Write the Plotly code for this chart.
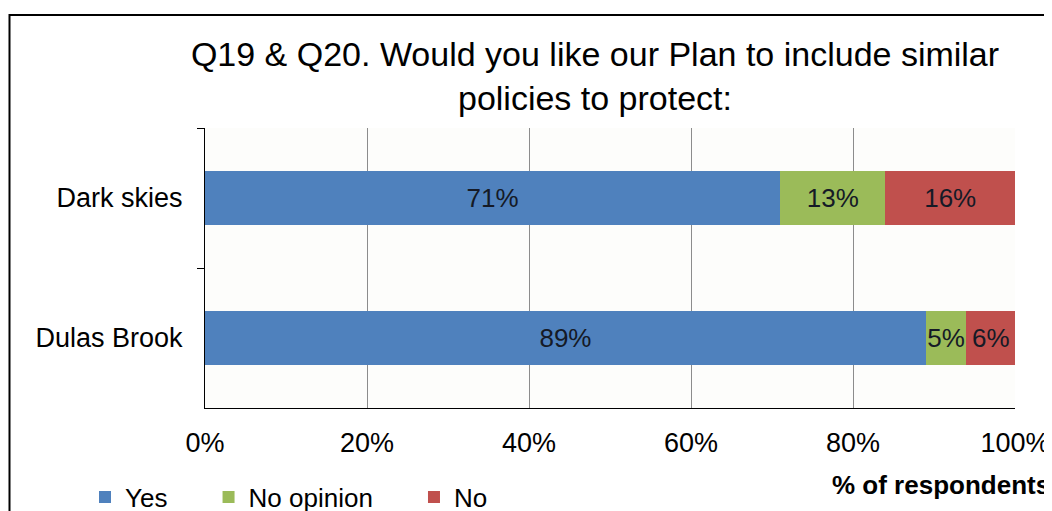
import plotly.graph_objects as go

categories = ["Dark skies", "Dulas Brook"]
yes_vals = [71, 89]
noop_vals = [13, 5]
no_vals = [16, 6]
series_names = ["Yes", "No opinion", "No"]
legend_pad = [5, 5, 0]
tick_vals = [0, 20, 40, 60, 80, 100]
tick_text = ["0%", "20%", "40%", "60%", "80%", "100%"]

colors = ["#4F81BD", "#9BBB59", "#C0504D"]
FONT = "Liberation Sans, Arial, sans-serif"

OFF = 8  # page body margin offset
W, H = 1052, 511
L, T = 205 - OFF, 128 - OFF
R, B = W - (1015 - OFF), H - (408 - OFF)
PW, PH = W - L - R, H - T - B


def px_x(x):
    return (x - OFF - L) / PW


def px_y(y):
    return (H - B - (y - OFF)) / PH


fig = go.Figure()
for name, vals, col, pad in zip(series_names, [yes_vals, noop_vals, no_vals], colors, legend_pad):
    fig.add_trace(go.Bar(
        y=categories, x=vals, name=name + "\u00a0" * pad, orientation="h",
        marker=dict(color=col, line=dict(width=0)),
        text=[f"{v}%" for v in vals], textposition="inside", textangle=0,
        insidetextanchor="middle", constraintext="none",
        textfont=dict(family=FONT, size=26, color="#151a26"),
        hoverinfo="skip",
    ))

fig.update_layout(
    barmode="stack", bargap=0.61,
    width=W, height=H,
    margin=dict(l=L, r=R, t=T, b=B, autoexpand=False),
    paper_bgcolor="white", plot_bgcolor="#fdfdfb",
    font=dict(family=FONT, size=27, color="black"),
    title=dict(text="Q19 & Q20. Would you like our Plan to include similar<br>policies to protect:",
               x=(595 - OFF) / W, xanchor="center", y=1 - (66 - OFF) / H, yanchor="middle",
               font=dict(family=FONT, size=34, color="black")),
    showlegend=True,
    legend=dict(orientation="h", x=px_x(85), xanchor="left",
                y=px_y(497), yanchor="middle", font=dict(family=FONT, size=26),
                itemwidth=30, traceorder="normal", bgcolor="rgba(0,0,0,0)"),
    xaxis=dict(range=[0, 100], tickvals=tick_vals, ticktext=tick_text,
               showgrid=True, gridcolor="#8c8c8c", gridwidth=1,
               showline=True, linecolor="black", linewidth=1,
               ticks="", tickfont=dict(size=27), ticklabelstandoff=11, zeroline=False),
    yaxis=dict(autorange="reversed", showline=True, linecolor="black", linewidth=1,
               ticks="outside", tickson="boundaries", ticklen=7, tickcolor="black",
               tickfont=dict(size=27), ticklabelstandoff=16, showgrid=False),
    shapes=[dict(type="rect", xref="paper", yref="paper",
                 x0=px_x(9.5), x1=1.2, y0=-0.6, y1=px_y(15),
                 line=dict(color="black", width=2), fillcolor="rgba(0,0,0,0)", layer="below")],
    annotations=[dict(text="<b>% of respondents</b>", xref="paper", yref="paper",
                      x=px_x(830), y=px_y(485), xanchor="left", yanchor="middle",
                      showarrow=False, font=dict(family=FONT, size=26, color="black"))],
)

fig.write_html("out.html")
